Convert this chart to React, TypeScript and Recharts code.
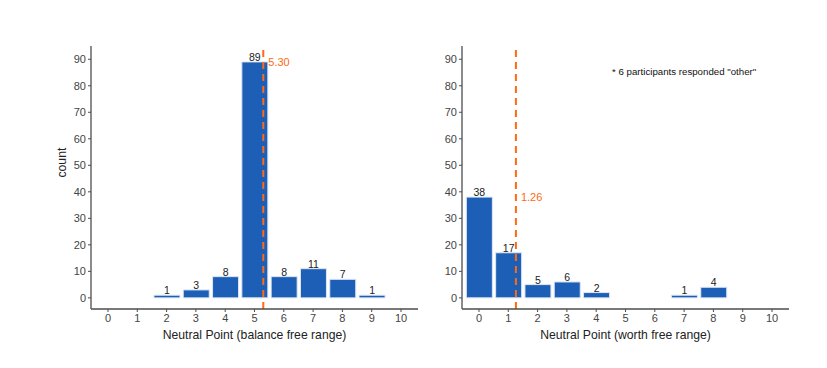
import { ComposedChart, Bar, XAxis, YAxis, ReferenceLine, ReferenceDot, LabelList } from 'recharts'

const neutralPoints = [0, 1, 2, 3, 4, 5, 6, 7, 8, 9, 10]
const balanceCounts = [null, null, 1, 3, 8, 89, 8, 11, 7, 1, null]
const worthCounts = [38, 17, 5, 6, 2, null, null, 1, 4, null, null]
const countTicks = [0, 10, 20, 30, 40, 50, 60, 70, 80, 90]

const balanceMean = 5.3
const worthMean = 1.26
const balancePeak = 89
const worthPeak = 38

const FONT = '"Liberation Sans", Arial, sans-serif'
const BLUE = '#1d5fb6'
const ORANGE = '#ff6a13'
const AXIS = '#4d4d4d'

function buildRows(counts: (number | null)[]) {
  return neutralPoints.map((x, i) => ({ x, count: counts[i] }))
}

interface PanelProps {
  counts: (number | null)[]
  mean: number
  peak: number
  xTitle: string
  showYTitle: boolean
  marginLeft: number
}

function Panel({ counts, mean, peak, xTitle, showYTitle, marginLeft }: PanelProps) {
  const tickStyle = { fontSize: 11, fill: '#444', stroke: 'none', fontFamily: FONT }
  return (
    <ComposedChart
      width={marginLeft + 40 + 327 + 4}
      height={368}
      data={buildRows(counts)}
      margin={{ top: 46, right: 4, left: marginLeft, bottom: 19 }}
    >
      <XAxis
        dataKey="x"
        type="number"
        domain={[-0.58, 10.58]}
        ticks={neutralPoints}
        allowDataOverflow
        tick={tickStyle}
        tickLine={{ stroke: AXIS }}
        tickSize={3}
        axisLine={{ stroke: AXIS, strokeWidth: 1.3 }}
        height={40}
        label={{ value: xTitle, position: 'insideBottom', offset: 10, fontSize: 12.2, fill: '#222', fontFamily: FONT }}
      />
      <YAxis
        type="number"
        domain={[-4.2, 95]}
        ticks={countTicks}
        allowDataOverflow
        tick={tickStyle}
        tickLine={{ stroke: AXIS }}
        tickSize={3}
        axisLine={{ stroke: AXIS, strokeWidth: 1.3 }}
        width={40}
        label={
          showYTitle
            ? { value: 'count', angle: -90, position: 'insideLeft', offset: 11, fontSize: 12.2, fill: '#222', fontFamily: FONT }
            : undefined
        }
      />
      <Bar dataKey="count" fill={BLUE} stroke="#dce6f4" strokeWidth={1} barSize={26} isAnimationActive={false}>
        <LabelList dataKey="count" position="top" offset={1} style={{ fontSize: 10.5, fill: '#222', stroke: 'none', fontFamily: FONT }} />
      </Bar>
      <ReferenceLine x={mean} stroke={ORANGE} strokeWidth={2} strokeDasharray="7 5" />
      <ReferenceDot
        x={mean}
        y={peak}
        r={0}
        fill="none"
        stroke="none"
        label={{ value: mean.toFixed(2), position: 'right', offset: 5, fontSize: 11, fill: ORANGE, fontFamily: FONT }}
      />
    </ComposedChart>
  )
}

export default function App() {
  return (
    <div style={{ position: 'absolute', left: 0, top: 0, width: 827, height: 368, background: '#fff' }}>
      <div style={{ position: 'absolute', left: 0, top: 0 }}>
        <Panel counts={balanceCounts} mean={balanceMean} peak={balancePeak} xTitle="Neutral Point (balance free range)" showYTitle marginLeft={51} />
      </div>
      <div style={{ position: 'absolute', left: 380, top: 0 }}>
        <Panel counts={worthCounts} mean={worthMean} peak={worthPeak} xTitle="Neutral Point (worth free range)" showYTitle={false} marginLeft={42} />
      </div>
      <div
        style={{
          position: 'absolute',
          left: 612,
          top: 66,
          fontSize: 9.7,
          fontFamily: FONT,
          color: '#111',
          whiteSpace: 'nowrap',
        }}
      >
        * 6 participants responded "other"
      </div>
    </div>
  )
}
